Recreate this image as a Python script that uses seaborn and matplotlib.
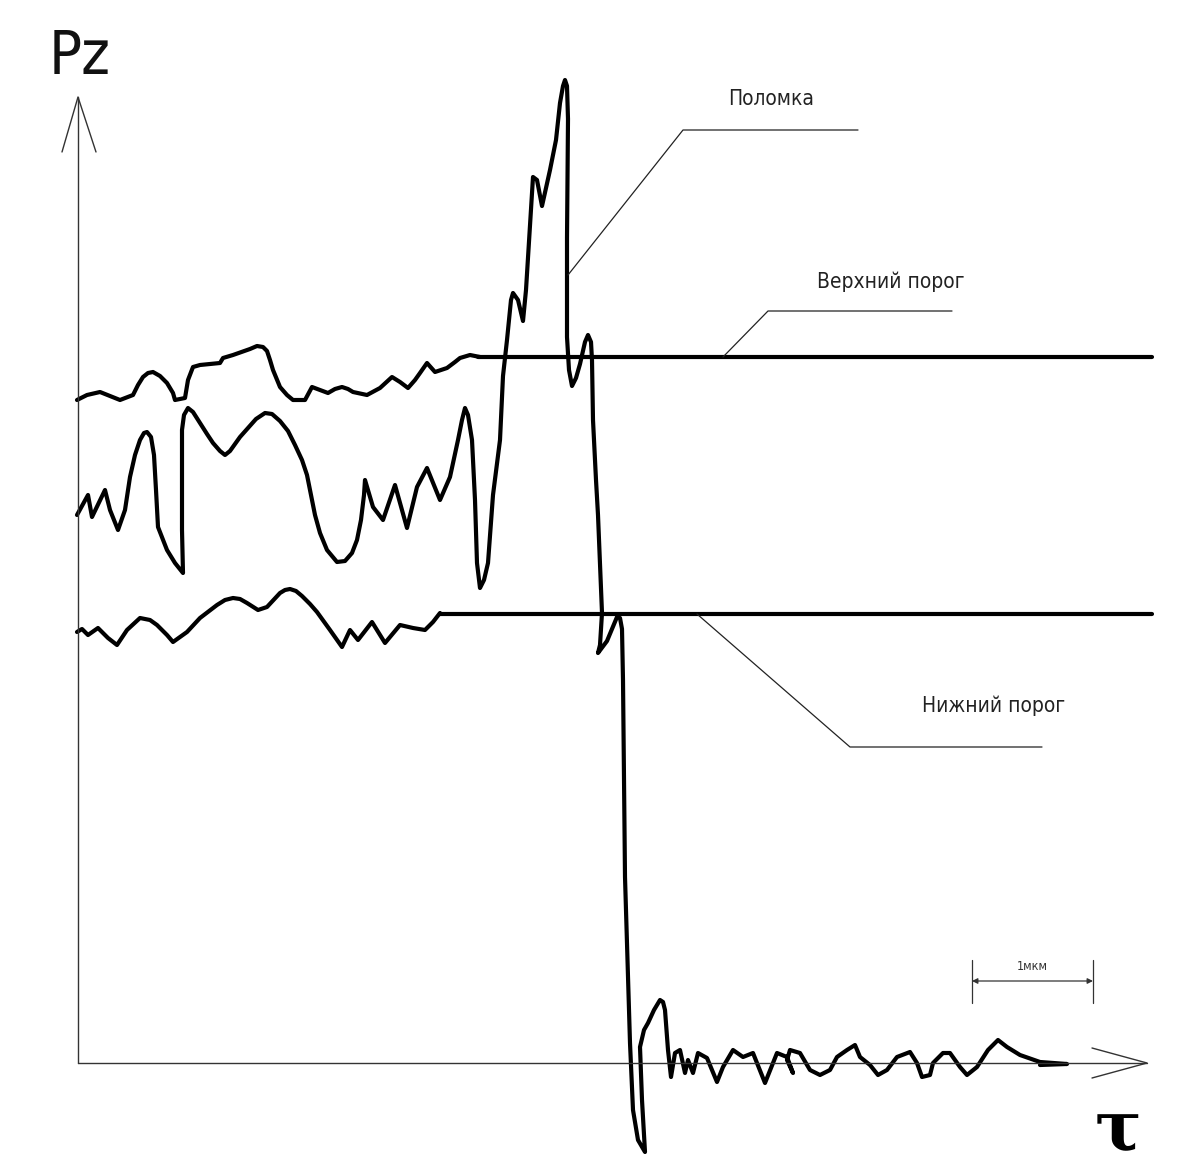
import numpy as np
import pandas as pd
import matplotlib
matplotlib.use("Agg")
import matplotlib.pyplot as plt
import seaborn as sns

# ---------------- data (drawing units: x to the right, y downward) -------------
# upper noisy trace, ending on the upper threshold
upper_x = [77, 87, 100, 110, 120, 133, 138, 143, 148, 153, 160, 167, 173, 175, 185, 188,
           193, 200, 220, 223, 233, 250, 257, 263, 267, 270, 273, 280, 287, 293, 305, 312,
           320, 328, 335, 342, 348, 353, 367, 380, 392, 400, 408, 415, 420, 427, 435, 447,
           455, 460, 470, 480]
upper_y = [400, 395, 392, 396, 400, 395, 385, 377, 373, 372, 376, 383, 393, 400, 398, 380,
           367, 365, 363, 358, 355, 349, 346, 347, 351, 360, 370, 387, 395, 400, 400, 387,
           390, 393, 389, 387, 389, 392, 395, 388, 377, 382, 388, 380, 373, 363, 372, 368,
           362, 358, 355, 357]

# middle trace: fluctuations, breakage spike, drop and decay
mid_x = [77, 88, 92, 105, 110, 118, 125, 130, 135, 140, 144, 147, 151, 154, 156, 158,
         167, 175, 183, 182, 182, 184, 188, 193, 200, 207, 213, 220, 225, 230, 240, 248,
         256, 265, 272, 280, 288, 295, 302, 307, 311, 315, 320, 327, 337, 345, 352, 357,
         361, 364, 365, 373, 383, 395, 407, 417, 427, 440, 450, 458, 462, 465, 468, 472,
         475, 477, 480, 484, 488, 493, 500, 503, 507, 511, 513, 518, 523, 526, 528, 533,
         537, 542, 550, 556, 560, 563, 565, 567, 568, 567, 567, 569, 572, 576, 580, 585,
         588, 591, 592, 593, 596, 598, 602, 600, 598, 607, 617, 620, 622, 623, 625, 630,
         633, 638, 645, 642, 640, 644, 648, 654, 660, 663, 665, 668, 671, 675, 680, 685,
         688, 693, 698, 707, 717, 723, 733, 743, 753, 765, 777, 787, 793, 787, 790, 800,
         810, 820, 830, 837, 847, 855, 860, 870, 878, 887, 897, 910, 917, 922, 930, 933,
         943, 950, 960, 967, 977, 988, 998, 1007, 1020, 1040, 1067, 1040]
mid_y = [515, 495, 517, 490, 510, 530, 510, 477, 455, 440, 433, 432, 437, 455, 490, 527,
         550, 563, 573, 530, 430, 415, 408, 412, 423, 434, 443, 451, 455, 451, 437, 428,
         419, 413, 414, 421, 431, 445, 460, 475, 495, 515, 533, 550, 562, 561, 553, 540,
         520, 495, 480, 507, 520, 485, 528, 487, 468, 500, 477, 440, 420, 408, 415, 440,
         500, 563, 588, 580, 563, 495, 440, 376, 340, 300, 293, 300, 321, 290, 258, 177,
         180, 206, 170, 140, 103, 86, 80, 86, 119, 238, 337, 370, 386, 378, 364, 342,
         335, 342, 360, 420, 480, 515, 613, 645, 653, 641, 617, 618, 629, 680, 877, 1043,
         1110, 1140, 1152, 1100, 1047, 1030, 1023, 1010, 1000, 1002, 1010, 1050, 1077,
         1053, 1050, 1073, 1060, 1073, 1053, 1058, 1082, 1067, 1050, 1057, 1053, 1083,
         1053, 1057, 1073, 1060, 1050, 1053, 1070, 1075, 1070, 1057, 1050, 1045, 1057,
         1065, 1075, 1070, 1057, 1052, 1063, 1077, 1075, 1063, 1053, 1053, 1067, 1075,
         1067, 1050, 1040, 1047, 1055, 1062, 1064, 1065]

# lower noisy trace, ending on the lower threshold
lower_x = [77, 82, 88, 98, 108, 117, 127, 140, 150, 157, 167, 173, 187, 200, 217, 225,
           233, 240, 247, 258, 267, 280, 285, 290, 296, 302, 310, 317, 330, 342, 350, 358,
           372, 385, 400, 413, 425, 433, 440]
lower_y = [632, 629, 635, 628, 638, 645, 630, 618, 620, 625, 635, 642, 632, 618, 605, 600,
           598, 599, 603, 610, 607, 593, 590, 589, 591, 596, 604, 612, 630, 647, 630, 640,
           622, 643, 625, 628, 630, 622, 613]

upper_threshold = 357
upper_threshold_span = [478, 1152]
lower_threshold = 614
lower_threshold_span = [440, 1152]

# leaders: (x list, y list) and label text
labels = ["Поломка", "Верхний порог", "Нижний порог"]
leader_x = [[568, 683, 858], [723, 768, 952], [697, 850, 1042]]
leader_y = [[275, 130, 130], [357, 311, 311], [614, 747, 747]]
label_pos = [(771, 99), (891, 282), (994, 706)]

axis_origin = (78, 1063)
y_axis_top = 97
x_axis_end = 1147
scale_bar = (972, 1093)
scale_text = "1мкм"

# ---------------- drawing ----------------
sns.set_theme(style="white")
plt.rcParams['font.family'] = ['DejaVu Sans']

fig = plt.figure(figsize=(11.77, 11.69), dpi=100)
ax = fig.add_axes([0, 0, 1, 1])
ax.set_xlim(0, 1177)
ax.set_ylim(1169, 0)
ax.axis("off")

lw_curve = 3.0
ink = "black"

def trace(xs, ys, lw=lw_curve, color=ink):
    df = pd.DataFrame({"x": xs, "y": ys})
    sns.lineplot(data=df, x="x", y="y", sort=False, estimator=None, ax=ax,
                 color=color, linewidth=lw, solid_joinstyle="round",
                 solid_capstyle="round")

trace(upper_x, upper_y)
trace(mid_x, mid_y)
trace(lower_x, lower_y)
trace(upper_threshold_span, [upper_threshold] * 2)
trace(lower_threshold_span, [lower_threshold] * 2)

# axes with open arrowheads
ox, oy = axis_origin
trace([ox, ox], [oy, y_axis_top], lw=1.0, color="#333333")
trace([ox - 16, ox, ox + 18], [y_axis_top + 55, y_axis_top, y_axis_top + 55], lw=1.0, color="#333333")
trace([ox, x_axis_end], [oy, oy], lw=1.0, color="#333333")
trace([x_axis_end - 55, x_axis_end, x_axis_end - 55], [oy - 15, oy, oy + 15], lw=1.0, color="#333333")

# leaders and labels
for xs, ys, txt, (tx, ty) in zip(leader_x, leader_y, labels, label_pos):
    trace(xs, ys, lw=0.9, color="#222222")
    ax.text(tx, ty, txt, ha="center", va="center", fontsize=15,
            fontstretch="condensed", fontweight="light", color="#222222")

# scale bar
sx0, sx1 = scale_bar
trace([sx0, sx0], [960, 1003], lw=0.9, color="#333333")
trace([sx1, sx1], [960, 1003], lw=0.9, color="#333333")
ax.annotate("", xy=(sx0, 981), xytext=(sx1, 981),
            arrowprops=dict(arrowstyle="<|-|>", lw=0.9, color="#333333",
                            mutation_scale=8, shrinkA=0, shrinkB=0))
ax.text((sx0 + sx1) / 2, 966, scale_text, ha="center", va="center", fontsize=9,
        fontstretch="condensed", color="#333333")

# axis titles
ax.text(80, 57, "Pz", ha="center", va="center", fontsize=44,
        fontstretch="condensed", fontweight="light", color="#111111")
ax.text(1118, 1150, "τ", ha="center", va="baseline", fontsize=50,
        family=["DejaVu Serif"], fontweight="bold", color="black")

fig.savefig("out.png", dpi=100, facecolor="white")
